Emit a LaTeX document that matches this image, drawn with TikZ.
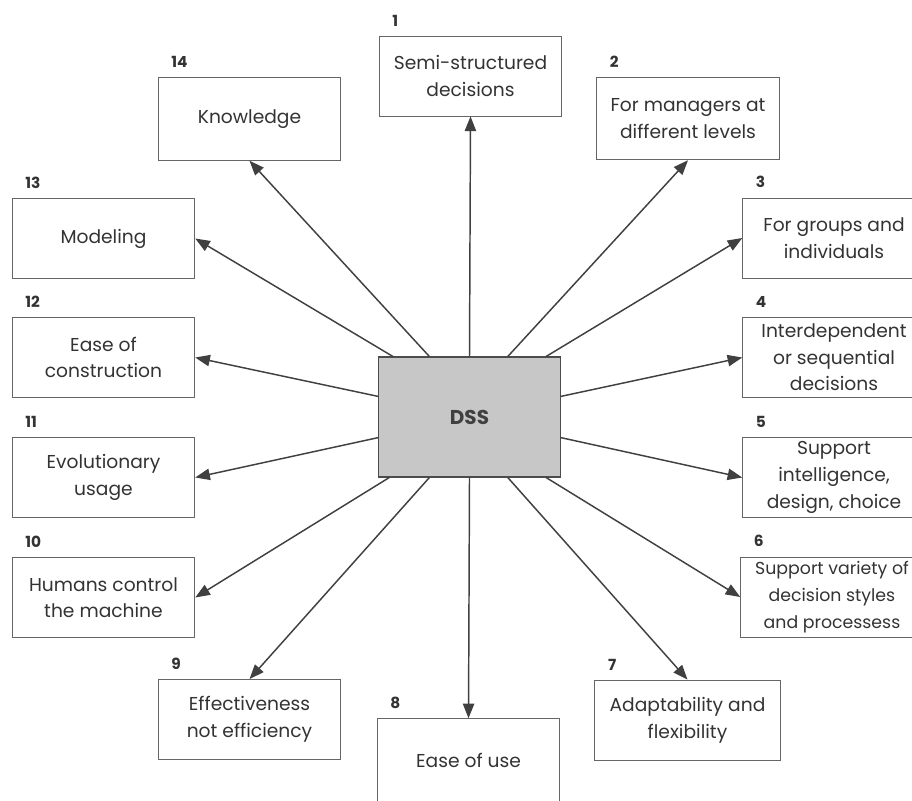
\documentclass[tikz,border=0pt]{standalone}
\usepackage{fontspec}
\setmainfont{Poppins}
\usetikzlibrary{arrows.meta,positioning,calc}
\tikzset{
    dssitem/.style={draw=black!60, line width=0.6pt, align=center, font=\fontsize{14}{20}\selectfont, text=black!80, minimum width=137pt, minimum height=60pt, inner sep=1pt},
    dsscore/.style={draw=black!70, line width=0.8pt, fill=black!22, align=center, font=\fontsize{15}{16}\selectfont\bfseries, text=black!75, minimum width=136pt, minimum height=90pt},
    dssnum/.style={font=\fontsize{11.5}{13}\selectfont\bfseries, text=black!80, inner sep=0pt},
    dssarrow/.style={-{Triangle[length=11pt, width=8.5pt]}, line width=1.1pt, draw=black!75}
}

\begin{document}
\begin{tikzpicture}[x=0.75pt, y=-0.75pt]
        \useasboundingbox (0,0) rectangle (912,800);
        \node[dsscore] (dss) at (469.5,417) {DSS};
        % items, clockwise from the top
        \node[dssitem] (i1) at (470.5,76) {Semi-structured\\decisions};
        \node[dssitem, minimum height=62pt] (i2) at (688,118.5) {For managers at\\different levels};
        \node[dssitem] (i3) at (834,238) {For groups and\\individuals};
        \node[dssitem] (i4) at (834,357.5) {Interdependent\\or sequential\\decisions};
        \node[dssitem] (i5) at (834,477.5) {Support\\intelligence,\\design, choice};
        \node[dssitem, font=\fontsize{13}{20}\selectfont] (i6) at (832,597) {Support variety of\\decision styles\\and processess};
        \node[dssitem, minimum width=139pt] (i7) at (687.5,720) {Adaptability and\\flexibility};
        \node[dssitem, minimum height=62pt] (i8) at (468.5,760) {Ease of use};
        \node[dssitem] (i9) at (249.5,719.5) {Effectiveness\\not efficiency};
        \node[dssitem] (i10) at (103.5,597.5) {Humans control\\the machine};
        \node[dssitem] (i11) at (103.5,477.5) {Evolutionary\\usage};
        \node[dssitem] (i12) at (103.5,357.5) {Ease of\\construction};
        \node[dssitem] (i13) at (103.5,238.5) {Modeling};
        \node[dssitem, minimum height=62pt] (i14) at (249.5,119) {Knowledge};
        % numbers
        \foreach \k in {1,...,14}
            \node[dssnum, above right=7pt and 10pt of i\k.north west] (n\k) {\k};
        % arrows
        \draw[dssarrow] (dss.north) -- (i1.south);
        \draw[dssarrow] ($(dss.north west)!.71!(dss.north east)$) -- (i2.south);
        \draw[dssarrow] ($(dss.north west)!.92!(dss.north east)$) -- (i3.west);
        \draw[dssarrow] ($(dss.north east)!.33!(dss.south east)$) -- (i4.west);
        \draw[dssarrow] ($(dss.north east)!.67!(dss.south east)$) -- (i5.west);
        \draw[dssarrow] ($(dss.south west)!.92!(dss.south east)$) -- (i6.west);
        \draw[dssarrow] ($(dss.south west)!.71!(dss.south east)$) -- (i7.north);
        \draw[dssarrow] (dss.south) -- (i8.north);
        \draw[dssarrow] ($(dss.south west)!.28!(dss.south east)$) -- (i9.north);
        \draw[dssarrow] ($(dss.south west)!.06!(dss.south east)$) -- (i10.east);
        \draw[dssarrow] ($(dss.north west)!.67!(dss.south west)$) -- (i11.east);
        \draw[dssarrow] ($(dss.north west)!.33!(dss.south west)$) -- (i12.east);
        \draw[dssarrow] ($(dss.north west)!.08!(dss.north east)$) -- (i13.east);
        \draw[dssarrow] ($(dss.north west)!.28!(dss.north east)$) -- (i14.south);
    \end{tikzpicture}
\end{document}
